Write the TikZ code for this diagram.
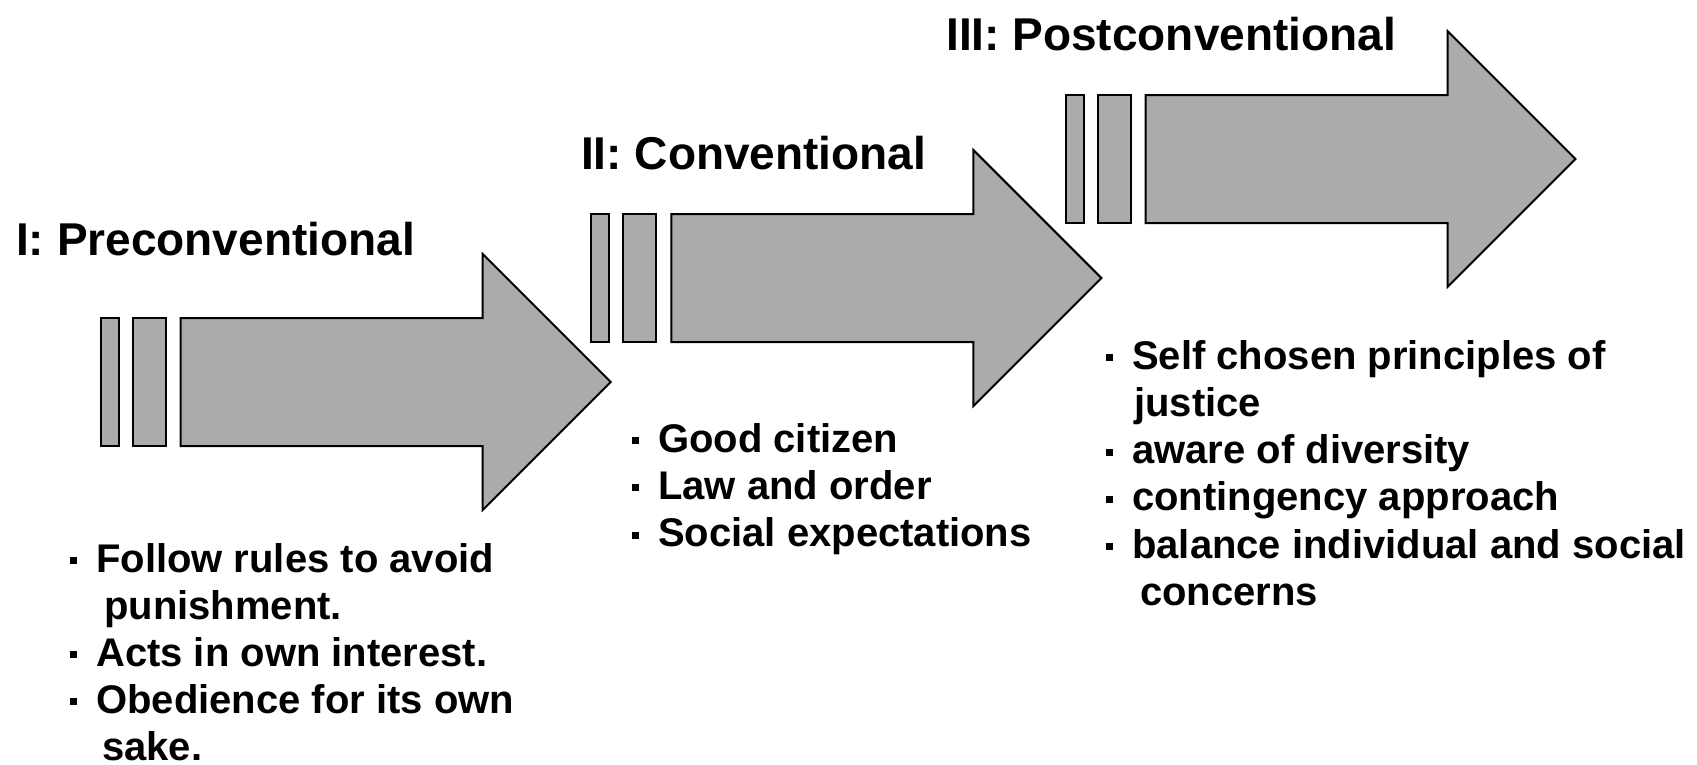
\documentclass[tikz,border=0pt]{standalone}
\usepackage{fontspec}
\setmainfont{Liberation Sans}
\definecolor{arrowgray}{RGB}{171,171,171}
\newcommand\stagearrow[2]{%
  \begin{scope}[shift={(#1,#2)}]
    \draw[arrowbox] (0,-64) rectangle (18,64);
    \draw[arrowbox] (32,-64) rectangle (65,64);
    \draw[arrowbox] (80,-64) -- (382,-64) -- (382,-128) -- (510,0) -- (382,128) -- (382,64) -- (80,64) -- cycle;
  \end{scope}}
\newcommand\bul{\makebox[26pt][l]{\rule[8pt]{7pt}{7pt}}}
\begin{document}
\begin{tikzpicture}[x=1pt,y=-1pt,
  arrowbox/.style={fill=arrowgray,draw=black,line width=2pt,miter limit=10},
  stagetitle/.style={anchor=base west,inner sep=0pt,font=\fontsize{46}{50}\selectfont\bfseries},
  bulletblock/.style={anchor=base west,inner sep=0pt}]
\useasboundingbox[fill=white] (0,0) rectangle (1697,764);
\stagearrow{100.7}{382}
\stagearrow{591.4}{278}
\stagearrow{1065.5}{159}
\node[stagetitle] (t1) at (16,255) {I: Preconventional};
\node[stagetitle] (t2) at (581,169) {II: Conventional};
\node[stagetitle] (t3) at (946,50) {III: Postconventional};
\node[bulletblock] (b1) at (70,572) {\parbox[t]{600pt}{\raggedright\fontsize{40}{47}\selectfont\bfseries
\bul Follow rules to avoid\\
\hspace*{34pt}punishment.\\
\bul Acts in own interest.\\
\bul Obedience for its own\\
\hspace*{32pt}sake.}};
\node[bulletblock] (b2) at (632,452) {\parbox[t]{600pt}{\raggedright\fontsize{40}{47.3}\selectfont\bfseries
\bul Good citizen\\
\bul Law and order\\
\bul Social expectations}};
\node[bulletblock] (b3) at (1106,369) {\parbox[t]{600pt}{\raggedright\fontsize{40}{47.3}\selectfont\bfseries
\bul Self chosen principles of\\
\hspace*{28pt}justice\\
\bul aware of diversity\\
\bul contingency approach\\
\bul balance individual and social\\
\hspace*{34pt}concerns}};
\end{tikzpicture}
\end{document}
